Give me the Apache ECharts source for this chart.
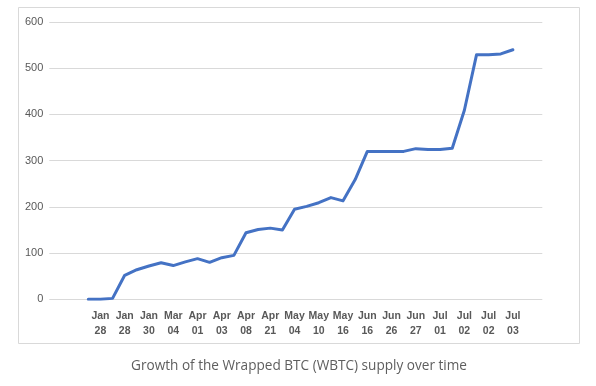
<!DOCTYPE html>
<html>
<head>
<meta charset="utf-8">
<script src="https://cdn.jsdelivr.net/npm/echarts@6/dist/echarts.min.js"></script>
<style>
html,body{margin:0;padding:0;background:#fff;}
#chart{width:596px;height:386px;}
</style>
</head>
<body>
<div id="chart"></div>
<script>
// Tick labels shown under every other point (odd point indices)
const dateLabels = ['Jan\n28','Jan\n28','Jan\n30','Mar\n04','Apr\n01','Apr\n03','Apr\n08','Apr\n21','May\n04','May\n10','May\n16','Jun\n16','Jun\n26','Jun\n27','Jul\n01','Jul\n02','Jul\n02','Jul\n03'];
// WBTC supply values, one per point
const supply = [0,0,2,52,64,72,79,73,81,88,80,90,95,144,151,154,150,195,201,209,220,213,259,320,320,320,320,326,324,324,327,409,529,529,531,540];
const yTicks = [0,100,200,300,400,500,600];
const caption = 'Growth of the Wrapped BTC (WBTC) supply over time';

const categories = supply.map((v, i) => (i % 2 === 1 ? dateLabels[(i - 1) / 2] : ''));

const chart = echarts.init(document.getElementById('chart'), null, {renderer: 'canvas'});
const labelFont = '"Liberation Sans", Arial, sans-serif';
chart.setOption({
  animation: false,
  backgroundColor: '#ffffff',
  graphic: [
    {type: 'rect', shape: {x: 18.5, y: 7.5, width: 561, height: 336}, style: {fill: 'none', stroke: '#d9d9d9', lineWidth: 1}, z: 0},
    {type: 'text', x: 299, y: 366.5, style: {text: caption, font: '13.6px "Open Sans", sans-serif', fill: '#5e5e5e', textAlign: 'center', textVerticalAlign: 'middle'}}
  ],
  grid: [
    {left: 49.3, right: 53.7, top: 22, bottom: 86.7},
    {left: 88.3, right: 83.1, top: 22, bottom: 86.7}
  ],
  xAxis: [
    {type: 'category', gridIndex: 0, data: ['a'], show: false},
    {type: 'category', gridIndex: 1, data: categories, boundaryGap: false,
     axisLine: {show: false}, axisTick: {show: false}, splitLine: {show: false},
     axisLabel: {interval: 0, margin: 9, color: '#595959', fontFamily: labelFont, fontWeight: 'bold', fontSize: 10.5, lineHeight: 15}}
  ],
  yAxis: [
    {type: 'value', gridIndex: 0, min: yTicks[0], max: yTicks[yTicks.length - 1], interval: 100,
     axisLine: {show: false}, axisTick: {show: false},
     splitLine: {lineStyle: {color: '#d9d9d9', width: 1}},
     axisLabel: {color: '#595959', fontFamily: labelFont, fontSize: 11, margin: 6}},
    {type: 'value', gridIndex: 1, min: yTicks[0], max: yTicks[yTicks.length - 1], interval: 100, show: false, splitLine: {show: false}}
  ],
  series: [
    {type: 'line', xAxisIndex: 1, yAxisIndex: 1, data: supply, showSymbol: false, symbol: 'none',
     lineStyle: {color: '#4472C4', width: 3, join: 'round', cap: 'round'}, z: 3}
  ]
});
</script>
</body>
</html>
